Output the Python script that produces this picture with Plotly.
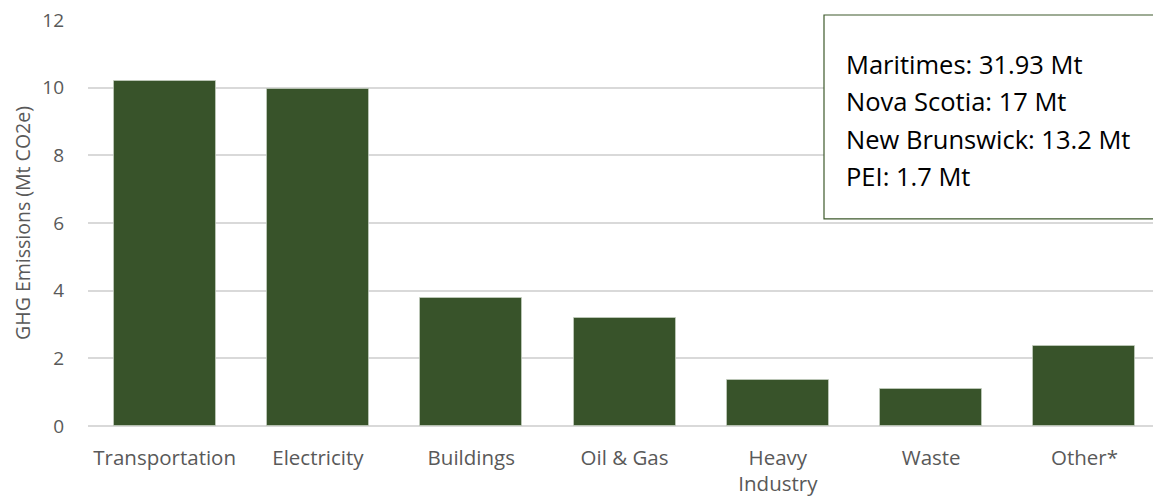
import plotly.graph_objects as go

# Sector emissions, Mt CO2e
sectors = ["Transportation", "Electricity", "Buildings", "Oil & Gas",
           "Heavy<br>Industry", "Waste", "Other*"]
emissions = [10.21, 9.96, 3.79, 3.20, 1.37, 1.09, 2.35]

y_ticks = [0, 2, 4, 6, 8, 10, 12]

summary_lines = ["Maritimes: 31.93 Mt", "Nova Scotia: 17 Mt",
                 "New Brunswick: 13.2 Mt", "PEI: 1.7 Mt"]

W, H = 1153, 497
ML, MR, MT, MB = 88, 0, 20, 71.3
plot_w = W - ML - MR
plot_h = H - MT - MB
cat_px = 153.3


def px_x(px):
    return (px - ML) / plot_w


def px_y(py):
    return 1 - (py - MT) / plot_h


fig = go.Figure(go.Bar(
    x=list(range(len(sectors))),
    y=emissions,
    width=0.665,
    marker=dict(color="#38532A", line=dict(color="rgba(200,210,195,0.7)", width=1)),
    hoverinfo="y",
))

fig.update_layout(
    width=W, height=H,
    margin=dict(l=ML, r=MR, t=MT, b=MB),
    paper_bgcolor="white", plot_bgcolor="white",
    font=dict(family="Open Sans", color="#595959"),
    showlegend=False,
    bargap=0,
)

fig.update_xaxes(
    range=[-0.5, -0.5 + plot_w / cat_px],
    tickmode="array",
    tickvals=list(range(len(sectors))),
    ticktext=sectors,
    tickfont=dict(size=20.5, color="#595959"),
    showgrid=False, zeroline=False, showline=False, ticks="",
    ticklabelstandoff=17,
)

fig.update_yaxes(
    range=[0, 12],
    tickvals=y_ticks,
    tickfont=dict(size=19, color="#595959"),
    showgrid=True, gridcolor="#d9d9d9", gridwidth=1.5,
    zeroline=True, zerolinecolor="#d9d9d9", zerolinewidth=1.5,
    showline=False, ticks="",
    ticklabelstandoff=23,
    title=dict(text="GHG Emissions (Mt CO2e)", font=dict(size=19.5, color="#595959"),
               standoff=6),
)

# Summary box with regional totals
fig.add_shape(
    type="rect", xref="paper", yref="paper",
    x0=px_x(824), x1=px_x(1180), y0=px_y(218.7), y1=px_y(15),
    fillcolor="white", line=dict(color="#3E5A2C", width=1.2),
    layer="above",
)

line_centers = [63.5, 100.5, 138.5, 175.5]
for txt, cy in zip(summary_lines, line_centers):
    fig.add_annotation(
        text=txt, xref="paper", yref="paper",
        x=px_x(844), y=px_y(cy), xanchor="left", yanchor="middle",
        showarrow=False, font=dict(family="Open Sans", size=25.5, color="#000000"),
    )

fig.write_html("out.html")
